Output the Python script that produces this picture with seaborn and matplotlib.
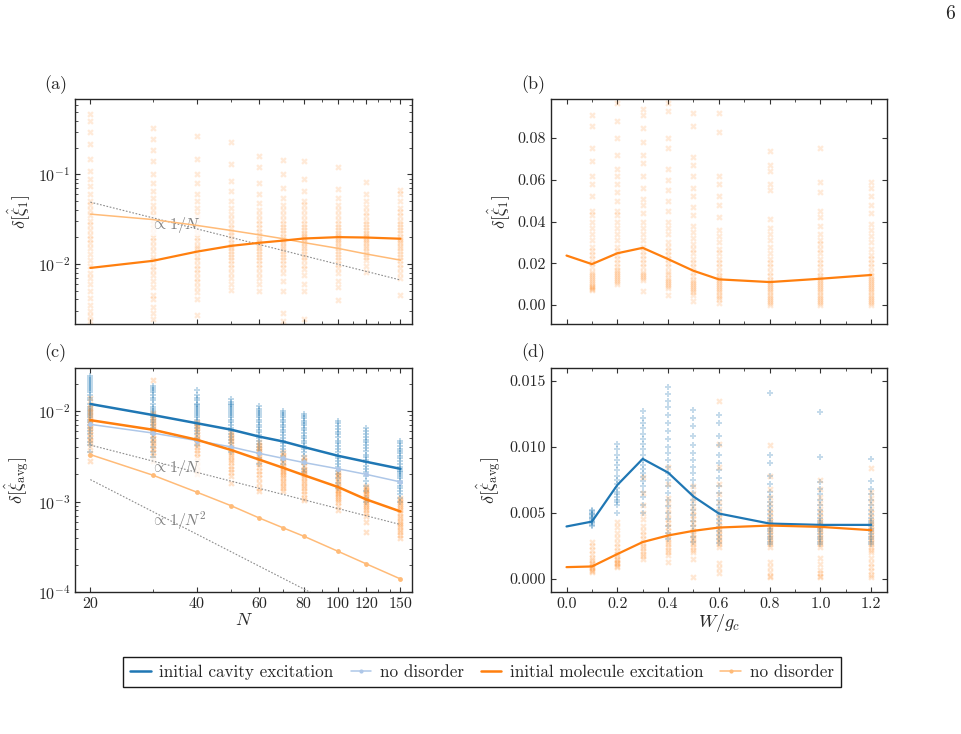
import numpy as np
import pandas as pd
import seaborn as sns
import matplotlib.pyplot as plt
from matplotlib.lines import Line2D
from matplotlib.ticker import MultipleLocator, NullFormatter, FuncFormatter

sns.set_style('ticks')
plt.rcParams['font.family'] = ['cmr10', 'DejaVu Sans']
plt.rcParams['mathtext.fontset'] = 'cm'
plt.rcParams['axes.unicode_minus'] = False
plt.rcParams['axes.formatter.use_mathtext'] = True

# ---------------- data ----------------
N = [20, 30, 40, 50, 60, 70, 80, 100, 120, 150]
W_line = [0.0, 0.1, 0.2, 0.3, 0.4, 0.5, 0.6, 0.8, 1.0, 1.2]
W_pts = [0.1, 0.2, 0.3, 0.4, 0.5, 0.6, 0.8, 1.0, 1.2]

# (a) single-molecule error vs N
a_mean = [0.0090, 0.0108, 0.0137, 0.0159, 0.0172, 0.0182, 0.0192, 0.0199, 0.0197, 0.0191]
a_nodis = [0.036, 0.0313, 0.0269, 0.0236, 0.0211, 0.0191, 0.0173, 0.0149, 0.0129, 0.0110]
a_guide_x = [20, 150]
a_guide = [0.049, 0.0066]
a_pts = [
    [0.48, 0.40, 0.30, 0.22, 0.15, 0.11, 0.09, 0.075, 0.06, 0.05, 0.045, 0.04, 0.035, 0.03, 0.027, 0.024,
     0.021, 0.019, 0.017, 0.015, 0.013, 0.011, 0.0095, 0.008, 0.007, 0.006, 0.005, 0.0042, 0.0035, 0.003, 0.0026, 0.0023],
    [0.33, 0.25, 0.19, 0.14, 0.10, 0.08, 0.065, 0.055, 0.046, 0.04, 0.035, 0.031, 0.028, 0.025, 0.022, 0.02,
     0.018, 0.016, 0.014, 0.012, 0.011, 0.0095, 0.0085, 0.0075, 0.0065, 0.0055, 0.0045, 0.004, 0.0033, 0.0028, 0.0024],
    [0.27, 0.15, 0.10, 0.08, 0.06, 0.05, 0.042, 0.036, 0.032, 0.028, 0.025, 0.022, 0.02, 0.018, 0.016, 0.015,
     0.0135, 0.012, 0.011, 0.0098, 0.0088, 0.0078, 0.007, 0.0062, 0.0055, 0.0048, 0.004, 0.0027],
    [0.23, 0.13, 0.085, 0.065, 0.05, 0.042, 0.036, 0.032, 0.028, 0.025, 0.023, 0.021, 0.019, 0.017, 0.016,
     0.015, 0.014, 0.013, 0.012, 0.011, 0.010, 0.009, 0.008, 0.007, 0.006, 0.0051],
    [0.16, 0.12, 0.08, 0.06, 0.048, 0.04, 0.035, 0.031, 0.028, 0.025, 0.023, 0.021, 0.019, 0.018, 0.017, 0.016,
     0.015, 0.014, 0.013, 0.012, 0.011, 0.010, 0.009, 0.008, 0.007, 0.006, 0.005],
    [0.145, 0.10, 0.07, 0.055, 0.045, 0.04, 0.035, 0.031, 0.028, 0.026, 0.024, 0.022, 0.02, 0.019, 0.018, 0.017,
     0.016, 0.015, 0.014, 0.013, 0.012, 0.011, 0.010, 0.009, 0.008, 0.0065, 0.005, 0.0028, 0.0023],
    [0.14, 0.09, 0.065, 0.05, 0.045, 0.04, 0.035, 0.031, 0.028, 0.026, 0.024, 0.022, 0.021, 0.02, 0.019, 0.018,
     0.017, 0.016, 0.015, 0.014, 0.013, 0.012, 0.011, 0.0098, 0.0088, 0.0075, 0.006, 0.005, 0.0024],
    [0.12, 0.068, 0.055, 0.045, 0.04, 0.035, 0.031, 0.028, 0.026, 0.024, 0.022, 0.021, 0.02, 0.019, 0.018,
     0.017, 0.016, 0.015, 0.014, 0.013, 0.012, 0.011, 0.010, 0.009, 0.008, 0.0065, 0.0055, 0.0039],
    [0.083, 0.06, 0.05, 0.043, 0.038, 0.034, 0.03, 0.028, 0.026, 0.024, 0.022, 0.021, 0.02, 0.019, 0.018,
     0.017, 0.016, 0.015, 0.014, 0.013, 0.012, 0.011, 0.0095, 0.0081],
    [0.067, 0.06, 0.05, 0.042, 0.038, 0.034, 0.03, 0.028, 0.026, 0.024, 0.022, 0.02, 0.019, 0.018, 0.017,
     0.016, 0.015, 0.014, 0.013, 0.012, 0.011, 0.010, 0.009, 0.008, 0.007, 0.0045],
]

# (b) single-molecule error vs disorder
b_mean = [0.0237, 0.0196, 0.0248, 0.0274, 0.0220, 0.0164, 0.0123, 0.0110, 0.0126, 0.0144]
b_pts = [
    [0.091, 0.086, 0.075, 0.069, 0.062, 0.058, 0.052, 0.045, 0.043, 0.04, 0.037, 0.034, 0.031, 0.028, 0.026,
     0.024, 0.022, 0.02, 0.018, 0.016, 0.015, 0.014, 0.013, 0.012, 0.011, 0.010, 0.009, 0.0085, 0.008, 0.0075, 0.007],
    [0.097, 0.088, 0.08, 0.072, 0.065, 0.062, 0.058, 0.054, 0.05, 0.045, 0.043, 0.04, 0.037, 0.034, 0.031,
     0.028, 0.026, 0.024, 0.022, 0.02, 0.018, 0.017, 0.016, 0.015, 0.014, 0.013, 0.012, 0.011, 0.010],
    [0.094, 0.091, 0.085, 0.078, 0.072, 0.068, 0.062, 0.056, 0.051, 0.048, 0.044, 0.04, 0.037, 0.034, 0.031,
     0.028, 0.026, 0.024, 0.022, 0.02, 0.018, 0.016, 0.015, 0.014, 0.013, 0.012, 0.0065],
    [0.097, 0.093, 0.08, 0.075, 0.065, 0.06, 0.055, 0.05, 0.045, 0.04, 0.037, 0.034, 0.03, 0.028, 0.026,
     0.024, 0.022, 0.02, 0.018, 0.016, 0.015, 0.013, 0.012, 0.011, 0.01, 0.009, 0.008, 0.005],
    [0.092, 0.086, 0.071, 0.067, 0.062, 0.056, 0.052, 0.047, 0.043, 0.038, 0.035, 0.032, 0.029, 0.027, 0.025,
     0.022, 0.02, 0.018, 0.016, 0.014, 0.012, 0.011, 0.01, 0.009, 0.008, 0.007, 0.006, 0.005, 0.002],
    [0.092, 0.083, 0.062, 0.058, 0.052, 0.048, 0.042, 0.036, 0.033, 0.03, 0.027, 0.025, 0.022, 0.02, 0.018,
     0.016, 0.014, 0.013, 0.012, 0.011, 0.01, 0.009, 0.008, 0.007, 0.006, 0.005, 0.004, 0.003, 0.001],
    [0.074, 0.067, 0.064, 0.058, 0.055, 0.041, 0.037, 0.034, 0.031, 0.028, 0.025, 0.022, 0.02, 0.018, 0.016,
     0.014, 0.012, 0.011, 0.01, 0.009, 0.008, 0.007, 0.006, 0.005, 0.004, 0.003, 0.002, 0.001, 0.0],
    [0.075, 0.059, 0.054, 0.045, 0.042, 0.038, 0.034, 0.031, 0.029, 0.027, 0.025, 0.022, 0.02, 0.018, 0.016,
     0.014, 0.013, 0.012, 0.011, 0.01, 0.009, 0.008, 0.007, 0.006, 0.005, 0.004, 0.003, 0.002, 0.001, 0.0],
    [0.059, 0.056, 0.052, 0.048, 0.044, 0.039, 0.036, 0.033, 0.03, 0.027, 0.024, 0.022, 0.02, 0.018, 0.016,
     0.014, 0.013, 0.012, 0.011, 0.01, 0.009, 0.008, 0.007, 0.006, 0.005, 0.004, 0.003, 0.002, 0.001, 0.0],
]

# (c) averaged error vs N
c_cav_mean = [0.0119, 0.0090, 0.0073, 0.0062, 0.0052, 0.0046, 0.0040, 0.0032, 0.00275, 0.0023]
c_cav_nodis = [0.0071, 0.0057, 0.0047, 0.0040, 0.0034, 0.0030, 0.0027, 0.0023, 0.0020, 0.00165]
c_mol_mean = [0.0079, 0.0062, 0.0048, 0.0037, 0.0029, 0.00236, 0.00196, 0.00145, 0.00106, 0.00078]
c_mol_nodis = [0.0033, 0.00196, 0.00127, 0.00090, 0.00066, 0.000515, 0.000417, 0.000284, 0.000207, 0.000141]
c_guide_x = [20, 150]
c_guide1 = [0.0042, 0.00056]
c_guide2 = [0.00175, 0.0000311]
c_cav_pts = [
    [0.024, 0.023, 0.022, 0.021, 0.02, 0.019, 0.018, 0.017, 0.016, 0.015, 0.014, 0.013, 0.012, 0.011, 0.0105,
     0.01, 0.0095, 0.009, 0.0085, 0.008, 0.0075, 0.007, 0.0065, 0.006, 0.0055, 0.005, 0.0045, 0.0042, 0.0035],
    [0.019, 0.018, 0.017, 0.016, 0.015, 0.014, 0.013, 0.012, 0.011, 0.0105, 0.01, 0.0095, 0.009, 0.0085, 0.008,
     0.0075, 0.007, 0.0065, 0.006, 0.0055, 0.005, 0.0045, 0.004, 0.0035, 0.0031],
    [0.017, 0.015, 0.014, 0.013, 0.012, 0.0115, 0.011, 0.0105, 0.01, 0.0095, 0.009, 0.0085, 0.008, 0.0075,
     0.007, 0.0065, 0.006, 0.0055, 0.005, 0.0046, 0.0042],
    [0.0135, 0.0125, 0.012, 0.0115, 0.011, 0.0105, 0.01, 0.0095, 0.009, 0.0085, 0.008, 0.0075, 0.007, 0.0065,
     0.006, 0.0056, 0.0052, 0.0048, 0.0044, 0.004, 0.0035],
    [0.0112, 0.0105, 0.01, 0.0095, 0.009, 0.0085, 0.008, 0.0075, 0.007, 0.0066, 0.0062, 0.0058, 0.0054, 0.005,
     0.0046, 0.0043, 0.004, 0.0037, 0.0034, 0.003, 0.0026],
    [0.0100, 0.0095, 0.009, 0.0085, 0.008, 0.0075, 0.007, 0.0066, 0.0062, 0.0058, 0.0054, 0.005, 0.0047,
     0.0044, 0.0041, 0.0038, 0.0035, 0.0032, 0.0029, 0.0026],
    [0.0093, 0.0088, 0.0083, 0.0078, 0.0073, 0.0069, 0.0065, 0.0061, 0.0057, 0.0053, 0.005, 0.0047, 0.0044,
     0.0041, 0.0038, 0.0035, 0.0032, 0.0029, 0.0026, 0.0023, 0.0021],
    [0.0078, 0.0073, 0.0068, 0.0063, 0.0059, 0.0055, 0.0051, 0.0047, 0.0044, 0.0041, 0.0038, 0.0035, 0.0032,
     0.003, 0.0028, 0.0026, 0.0024, 0.0022, 0.002, 0.0018, 0.0016, 0.0014],
    [0.0065, 0.006, 0.0056, 0.0052, 0.0048, 0.0045, 0.0042, 0.0039, 0.0036, 0.0033, 0.0031, 0.0029, 0.0027,
     0.0025, 0.0023, 0.0021, 0.0019, 0.0017, 0.0015, 0.0013, 0.0011, 0.001],
    [0.0047, 0.0044, 0.0041, 0.0038, 0.0036, 0.0034, 0.0032, 0.003, 0.0028, 0.0026, 0.0024, 0.0023, 0.0022,
     0.0021, 0.002, 0.0019, 0.0018, 0.0017, 0.0016, 0.0015, 0.0014, 0.0013, 0.0012, 0.0011, 0.001],
]
c_mol_pts = [
    [0.0138, 0.012, 0.0108, 0.0102, 0.0096, 0.009, 0.0085, 0.008, 0.0076, 0.0072, 0.0068, 0.0064, 0.006,
     0.0056, 0.0052, 0.0048, 0.0045, 0.0040, 0.0034, 0.0028],
    [0.022, 0.0095, 0.009, 0.0085, 0.008, 0.0075, 0.007, 0.0066, 0.0062, 0.0058, 0.0054, 0.005, 0.0047,
     0.0044, 0.0041, 0.0038, 0.0035, 0.0032, 0.0028],
    [0.0076, 0.0072, 0.0068, 0.0064, 0.006, 0.0056, 0.0052, 0.0049, 0.0046, 0.0043, 0.004, 0.0037, 0.0034,
     0.0031, 0.0028, 0.0025, 0.0022, 0.002],
    [0.0058, 0.0055, 0.0052, 0.0049, 0.0046, 0.0043, 0.004, 0.0037, 0.0035, 0.0033, 0.0031, 0.0029, 0.0027,
     0.0025, 0.0023, 0.0021, 0.0019, 0.0016],
    [0.0045, 0.0042, 0.004, 0.0038, 0.0036, 0.0034, 0.0032, 0.003, 0.0028, 0.0026, 0.0024, 0.0022, 0.002,
     0.0018, 0.0016, 0.0014, 0.0013],
    [0.0035, 0.0033, 0.0031, 0.0029, 0.0027, 0.0025, 0.0024, 0.0023, 0.0022, 0.0021, 0.002, 0.0019, 0.0018,
     0.0017, 0.0016, 0.0015, 0.0014, 0.0013],
    [0.0031, 0.0029, 0.0027, 0.0025, 0.0023, 0.0022, 0.0021, 0.002, 0.0019, 0.0018, 0.0017, 0.0016, 0.0015,
     0.0014, 0.0013, 0.0012, 0.0011, 0.00105],
    [0.0021, 0.002, 0.0019, 0.0018, 0.0017, 0.0016, 0.0015, 0.0014, 0.00135, 0.0013, 0.00125, 0.0012, 0.00115,
     0.0011, 0.00105, 0.001, 0.0009, 0.0008],
    [0.0015, 0.0014, 0.00135, 0.0013, 0.00125, 0.0012, 0.00115, 0.0011, 0.00105, 0.001, 0.00095, 0.0009,
     0.00085, 0.0008, 0.00075, 0.0007, 0.0006, 0.00046],
    [0.0011, 0.00105, 0.001, 0.00095, 0.0009, 0.00085, 0.0008, 0.00075, 0.0007, 0.00066, 0.00062, 0.00058,
     0.00055, 0.00052, 0.00049, 0.00046, 0.00043, 0.0004],
]

# (d) averaged error vs disorder
d_cav_mean = [0.00396, 0.00433, 0.0071, 0.00908, 0.00804, 0.00623, 0.00494, 0.00418, 0.00408, 0.00408]
d_mol_mean = [0.00088, 0.00093, 0.00187, 0.00278, 0.00328, 0.00363, 0.00388, 0.00403, 0.00393, 0.00368]
d_cav_pts = [
    [0.0052, 0.0051, 0.005, 0.0049, 0.0048, 0.0047, 0.0046, 0.0045, 0.0044, 0.0043, 0.0042, 0.0041, 0.004],
    [0.0102, 0.0098, 0.0094, 0.009, 0.0086, 0.0082, 0.0078, 0.0075, 0.0072, 0.0069, 0.0066, 0.0064, 0.0062,
     0.006, 0.0058, 0.0056, 0.005],
    [0.0127, 0.0122, 0.0118, 0.0114, 0.011, 0.0106, 0.0102, 0.0098, 0.0094, 0.009, 0.0086, 0.0083, 0.008,
     0.0077, 0.0074, 0.007, 0.0066, 0.0062, 0.0056, 0.005],
    [0.0145, 0.014, 0.0135, 0.013, 0.0124, 0.0118, 0.0112, 0.0106, 0.01, 0.0095, 0.009, 0.0085, 0.008, 0.0075,
     0.007, 0.0065, 0.006, 0.0055, 0.005, 0.0045, 0.004, 0.0035, 0.003],
    [0.0128, 0.0122, 0.0116, 0.0108, 0.0101, 0.0095, 0.009, 0.0085, 0.008, 0.0075, 0.007, 0.0065, 0.006,
     0.0056, 0.0052, 0.0048, 0.0044, 0.004, 0.0036, 0.0032, 0.0028],
    [0.0124, 0.0118, 0.0108, 0.0101, 0.0094, 0.0088, 0.0082, 0.0076, 0.007, 0.0065, 0.006, 0.0056, 0.0052,
     0.0048, 0.0045, 0.0042, 0.0039, 0.0036, 0.0033, 0.003, 0.0027],
    [0.0141, 0.0094, 0.0088, 0.0078, 0.0072, 0.0066, 0.0062, 0.0058, 0.0055, 0.0052, 0.0049, 0.0046, 0.0044,
     0.0042, 0.004, 0.0038, 0.0036, 0.0034, 0.0032, 0.003, 0.0028, 0.0026],
    [0.0126, 0.0092, 0.0073, 0.0068, 0.0064, 0.006, 0.0056, 0.0052, 0.0049, 0.0046, 0.0044, 0.0042, 0.004,
     0.0038, 0.0036, 0.0034, 0.0032, 0.003, 0.0028, 0.0026],
    [0.0091, 0.0074, 0.0068, 0.0064, 0.006, 0.0056, 0.0052, 0.0049, 0.0046, 0.0044, 0.0042, 0.004, 0.0038,
     0.0036, 0.0034, 0.0032, 0.003, 0.0028, 0.0026],
]
d_mol_pts = [
    [0.0028, 0.0025, 0.0022, 0.0019, 0.0016, 0.0014, 0.0012, 0.0011, 0.001, 0.0009, 0.0008, 0.0007, 0.0006, 0.0005],
    [0.0043, 0.0039, 0.0035, 0.0031, 0.0027, 0.0024, 0.0021, 0.0019, 0.0017, 0.0015, 0.0014, 0.0013, 0.0012,
     0.0011, 0.001, 0.0009],
    [0.0077, 0.0065, 0.0056, 0.005, 0.0045, 0.004, 0.0036, 0.0033, 0.003, 0.0027, 0.0025, 0.0023, 0.0021,
     0.0019, 0.0017, 0.0015],
    [0.0085, 0.0072, 0.0061, 0.0057, 0.0053, 0.0049, 0.0045, 0.0042, 0.0039, 0.0036, 0.0033, 0.003, 0.0028,
     0.0026, 0.0024, 0.0022, 0.002, 0.0018, 0.0013],
    [0.007, 0.0065, 0.006, 0.0055, 0.0051, 0.0048, 0.0045, 0.0042, 0.0039, 0.0036, 0.0034, 0.0032, 0.003,
     0.0028, 0.0026, 0.0024, 0.0022, 0.002, 0.0015, 0.00015],
    [0.0135, 0.0102, 0.0085, 0.0072, 0.0064, 0.0058, 0.0053, 0.0049, 0.0046, 0.0043, 0.004, 0.0038, 0.0036,
     0.0034, 0.0032, 0.003, 0.0028, 0.0026, 0.0024, 0.0012, 0.0008, 0.0004],
    [0.0101, 0.0078, 0.0068, 0.0062, 0.0057, 0.0053, 0.005, 0.0047, 0.0044, 0.0042, 0.004, 0.0038, 0.0036,
     0.0034, 0.0032, 0.003, 0.0028, 0.0026, 0.0024, 0.0013, 0.0009, 0.0005, 0.0002, 0.0001],
    [0.0075, 0.0068, 0.0062, 0.0057, 0.0053, 0.005, 0.0047, 0.0044, 0.0042, 0.004, 0.0038, 0.0036, 0.0034,
     0.0032, 0.003, 0.0028, 0.0026, 0.0024, 0.0016, 0.0011, 0.0007, 0.0004, 0.0002, 0.0001],
    [0.0084, 0.0066, 0.0061, 0.0057, 0.0053, 0.005, 0.0047, 0.0044, 0.0042, 0.004, 0.0038, 0.0036, 0.0034,
     0.0032, 0.003, 0.0028, 0.0026, 0.0024, 0.0022, 0.002, 0.0016, 0.0012, 0.0009, 0.0006, 0.0003, 0.0001],
]

N_major = [20, 40, 60, 80, 100, 120, 150]
N_minor = [30, 50, 70, 90, 110, 130, 140]

C_CAV, C_CAV_L = '#1f77b4', '#aec7e8'
C_MOL, C_MOL_L = '#ff7f0e', '#ffbb78'
GUIDE = '0.55'


def long_df(xs, cols):
    # one row per scattered realisation
    return pd.DataFrame({'x': np.repeat(xs, [len(c) for c in cols]),
                         'y': np.concatenate(cols)})


def scat(ax, xs, cols, color, marker, alpha):
    sns.scatterplot(data=long_df(xs, cols), x='x', y='y', ax=ax, color=color, marker=marker,
                    s=22, alpha=alpha, linewidth=0, legend=False, zorder=1)


def line(ax, xs, ys, color, lw, **kw):
    sns.lineplot(x=xs, y=ys, ax=ax, color=color, linewidth=lw, errorbar=None, sort=False, zorder=3, **kw)


def pow10(v, pos):
    return r'$10^{%d}$' % int(round(np.log10(v)))


fig = plt.figure(figsize=(9.61, 7.34), dpi=100)
ax_a = fig.add_axes([0.078, 0.558, 0.351, 0.3065])
ax_b = fig.add_axes([0.5734, 0.558, 0.3493, 0.3065])
ax_c = fig.add_axes([0.078, 0.1928, 0.351, 0.3065])
ax_d = fig.add_axes([0.5734, 0.1928, 0.3493, 0.3065])

box = dict(fc='white', ec='none', alpha=0.75, pad=0.3)

# ---- (a) ----
scat(ax_a, N, a_pts, C_MOL, 'X', 0.16)
line(ax_a, a_guide_x, a_guide, GUIDE, 0.8, linestyle=(0, (1.5, 1.5)))
line(ax_a, N, a_nodis, C_MOL_L, 1.1)
line(ax_a, N, a_mean, C_MOL, 1.6)
ax_a.text(29.6, 0.027, r'$\propto 1/N$', color='gray', fontsize=11.5, va='center', bbox=box, zorder=2)

# ---- (b) ----
scat(ax_b, W_pts, b_pts, C_MOL, 'X', 0.16)
line(ax_b, W_line, b_mean, C_MOL, 1.6)

# ---- (c) ----
scat(ax_c, N, c_cav_pts, C_CAV, 'P', 0.28)
scat(ax_c, N, c_mol_pts, C_MOL, 'X', 0.22)
line(ax_c, c_guide_x, c_guide1, GUIDE, 0.8, linestyle=(0, (1.5, 1.5)))
line(ax_c, c_guide_x, c_guide2, GUIDE, 0.8, linestyle=(0, (1.5, 1.5)))
line(ax_c, N, c_cav_nodis, C_CAV_L, 1.1, marker='o', markersize=3.5, markeredgewidth=0)
line(ax_c, N, c_mol_nodis, C_MOL_L, 1.1, marker='o', markersize=3.5, markeredgewidth=0)
line(ax_c, N, c_cav_mean, C_CAV, 1.8)
line(ax_c, N, c_mol_mean, C_MOL, 1.8)
ax_c.text(29.6, 0.00234, r'$\propto 1/N$', color='gray', fontsize=11.5, va='center', bbox=box, zorder=2)
ax_c.text(29.6, 0.00062, r'$\propto 1/N^2$', color='gray', fontsize=11.5, va='center', bbox=box, zorder=2)

# ---- (d) ----
scat(ax_d, W_pts, d_cav_pts, C_CAV, 'P', 0.26)
scat(ax_d, W_pts, d_mol_pts, C_MOL, 'X', 0.18)
line(ax_d, W_line, d_cav_mean, C_CAV, 1.6)
line(ax_d, W_line, d_mol_mean, C_MOL, 1.6)

# ---- axes cosmetics ----
for ax in (ax_a, ax_c):
    ax.set_xscale('log')
    ax.set_yscale('log')
    ax.set_xlim(18.1, 162)
    ax.set_xticks(N_major, labels=[str(n) for n in N_major])
    ax.set_xticks(N_minor, minor=True)
    ax.xaxis.set_minor_formatter(NullFormatter())
    ax.yaxis.set_major_formatter(FuncFormatter(pow10))
ax_a.set_ylim(0.0021, 0.69)
ax_c.set_ylim(0.0001, 0.030)

for ax in (ax_b, ax_d):
    ax.set_xlim(-0.061, 1.261)
    ax.xaxis.set_major_locator(MultipleLocator(0.2))
    ax.xaxis.set_minor_locator(MultipleLocator(0.1))
    ax.xaxis.set_major_formatter(FuncFormatter(lambda v, p: '%.1f' % (v + 0.0)))
ax_b.set_ylim(-0.0093, 0.0985)
ax_b.yaxis.set_major_locator(MultipleLocator(0.02))
ax_b.yaxis.set_major_formatter(FuncFormatter(lambda v, p: '%.2f' % (round(v, 6) + 0.0)))
ax_d.set_ylim(-0.00104, 0.0160)
ax_d.yaxis.set_major_locator(MultipleLocator(0.005))
ax_d.yaxis.set_major_formatter(FuncFormatter(lambda v, p: '%.3f' % (round(v, 6) + 0.0)))

for ax in (ax_a, ax_b, ax_c, ax_d):
    ax.tick_params(which='both', direction='in', top=True, right=True, labelsize=11.5, color='.2')
    ax.tick_params(which='major', length=3.5, width=0.8)
    ax.tick_params(which='minor', length=2, width=0.6)
    for sp in ax.spines.values():
        sp.set_color('.15')
        sp.set_linewidth(1.0)
    ax.set_xlabel('')
    ax.set_ylabel('')
ax_a.tick_params(labelbottom=False)
ax_b.tick_params(labelbottom=False)

ax_a.set_ylabel(r'$\delta[\hat{\xi}_1]$', fontsize=13)
ax_b.set_ylabel(r'$\delta[\hat{\xi}_1]$', fontsize=13)
ax_c.set_ylabel(r'$\delta[\hat{\xi}_{\rm avg}]$', fontsize=13)
ax_d.set_ylabel(r'$\delta[\hat{\xi}_{\rm avg}]$', fontsize=13)
ax_c.set_xlabel(r'$N$', fontsize=13, labelpad=1)
ax_d.set_xlabel(r'$W/g_c$', fontsize=13, labelpad=1)

for ax, lab in zip((ax_a, ax_b, ax_c, ax_d), ['(a)', '(b)', '(c)', '(d)']):
    ax.text(-0.09, 1.065, lab, transform=ax.transAxes, fontsize=13, ha='left', va='center')

handles = [
    Line2D([], [], color=C_CAV, lw=1.8),
    Line2D([], [], color=C_CAV_L, lw=1.1, marker='o', markersize=3, markeredgewidth=0),
    Line2D([], [], color=C_MOL, lw=1.8),
    Line2D([], [], color=C_MOL_L, lw=1.1, marker='o', markersize=3, markeredgewidth=0),
]
labels = ['initial cavity excitation', 'no disorder', 'initial molecule excitation', 'no disorder']
leg = fig.legend(handles, labels, loc='center', bbox_to_anchor=(0.5015, 0.0845), ncol=4,
                 frameon=True, fancybox=False, edgecolor='.1', framealpha=1, fontsize=12.3,
                 handlelength=1.2, handletextpad=0.5, columnspacing=1.0, borderpad=0.45)
leg.get_frame().set_linewidth(1.0)

fig.text(0.9885, 0.981, '6', fontsize=14, ha='center', va='center')

fig.savefig('out.png', dpi=100)
